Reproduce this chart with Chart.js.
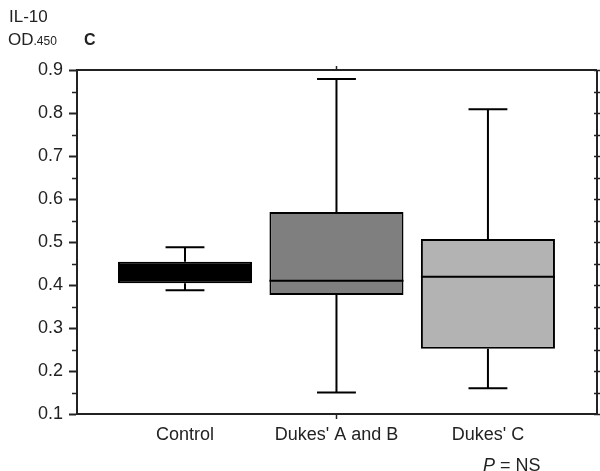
<!DOCTYPE html>
<html>
<head>
<meta charset="utf-8">
<script src="https://cdn.jsdelivr.net/npm/chart.js@4"></script>
<style>
  html, body { margin: 0; padding: 0; background: #fff; }
  #wrap { position: relative; width: 600px; height: 471px; font-family: "Liberation Sans", Arial, sans-serif; color: #222; }
  #c { position: absolute; left: 0; top: 0; }
  .t { position: absolute; white-space: nowrap; line-height: 1; }
</style>
</head>
<body>
<div id="wrap">
  <canvas id="c" width="600" height="471"></canvas>
  <div class="t" style="left:9px; top:8px; font-size:17px;">IL-10</div>
  <div class="t" style="left:8px; top:31px; font-size:17px;">OD<span style="font-size:12px;">.450</span></div>
  <div class="t" style="left:84px; top:32px; font-size:16px; font-weight:bold;">C</div>
  <div class="t" style="left:483px; top:456px; font-size:18px;"><i>P</i> = NS</div>
</div>
<script>
const categories = ['Control', "Dukes' A and B", "Dukes' C"];
const positions = [1, 2, 3];
const whiskerLow = [0.388, 0.150, 0.160];
const q1 = [0.404, 0.377, 0.252];
const median = [0.430, 0.410, 0.419];
const q3 = [0.454, 0.570, 0.507];
const whiskerHigh = [0.488, 0.879, 0.809];
const boxColors = ['#000000', '#7f7f7f', '#b3b3b3'];
const yTicks = [0.1, 0.2, 0.3, 0.4, 0.5, 0.6, 0.7, 0.8, 0.9];
const yMinorTicks = [0.15, 0.25, 0.35, 0.45, 0.55, 0.65, 0.75, 0.85];
const xRange = [0.287, 3.72];

const axisColor = '#222';

const boxPlugin = {
  id: 'boxExtras',
  afterDatasetsDraw(chart) {
    const ctx = chart.ctx;
    const y = chart.scales.y;
    const meta = chart.getDatasetMeta(0);
    ctx.save();
    ctx.strokeStyle = '#000';
    ctx.lineWidth = 2;
    meta.data.forEach((bar, i) => {
      const cx = bar.x;
      const w = bar.width;
      const capHalf = w * 0.145;
      const yq1 = y.getPixelForValue(q1[i]);
      const yq3 = y.getPixelForValue(q3[i]);
      const ymed = y.getPixelForValue(median[i]);
      const ylo = y.getPixelForValue(whiskerLow[i]);
      const yhi = y.getPixelForValue(whiskerHigh[i]);
      ctx.beginPath();
      ctx.moveTo(cx, yq3); ctx.lineTo(cx, yhi);
      ctx.moveTo(cx - capHalf, yhi); ctx.lineTo(cx + capHalf, yhi);
      ctx.moveTo(cx, yq1); ctx.lineTo(cx, ylo);
      ctx.moveTo(cx - capHalf, ylo); ctx.lineTo(cx + capHalf, ylo);
      ctx.moveTo(cx - w / 2, ymed); ctx.lineTo(cx + w / 2, ymed);
      ctx.stroke();
    });
    ctx.restore();
  },
  afterDraw(chart) {
    const ctx = chart.ctx;
    const a = chart.chartArea;
    const y = chart.scales.y;
    const x = chart.scales.x;
    ctx.save();
    ctx.strokeStyle = axisColor;
    ctx.lineWidth = 2;
    ctx.beginPath();
    ctx.moveTo(a.left, a.top); ctx.lineTo(a.right, a.top);
    ctx.moveTo(a.right, a.top); ctx.lineTo(a.right, a.bottom + 1);
    ctx.stroke();
    ctx.lineWidth = 1.5;
    ctx.beginPath();
    yMinorTicks.forEach(v => {
      const py = Math.round(y.getPixelForValue(v)) + 0.5;
      ctx.moveTo(a.left - 5, py); ctx.lineTo(a.left, py);
    });
    yTicks.concat(yMinorTicks).forEach(v => {
      const py = Math.round(y.getPixelForValue(v)) + 0.5;
      ctx.moveTo(a.right - 3, py); ctx.lineTo(a.right + 3, py);
    });
    const mx = Math.round(x.getPixelForValue(positions[1])) + 0.5;
    ctx.moveTo(mx, a.top - 4); ctx.lineTo(mx, a.top);
    ctx.moveTo(mx, a.bottom); ctx.lineTo(mx, a.bottom + 5);
    ctx.stroke();
    ctx.restore();
  }
};

new Chart(document.getElementById('c'), {
  type: 'bar',
  data: {
    datasets: [{
      data: positions.map((p, i) => ({ x: p, y: [q1[i], q3[i]] })),
      backgroundColor: boxColors,
      borderColor: '#000',
      borderWidth: 2,
      borderSkipped: false,
      barPercentage: 0.885,
      categoryPercentage: 1.0
    }]
  },
  options: {
    responsive: false,
    animation: false,
    devicePixelRatio: 1,
    layout: { padding: { top: 70, right: 3, left: 0, bottom: 0 } },
    plugins: { legend: { display: false }, tooltip: { enabled: false } },
    scales: {
      x: {
        type: 'linear',
        offset: false,
        bounds: 'data',
        min: xRange[0],
        max: xRange[1],
        afterDataLimits(scale) { scale.min = xRange[0]; scale.max = xRange[1]; },
        afterBuildTicks(scale) {
          scale.ticks = positions.map(v => ({ value: v }));
          scale.min = xRange[0]; scale.max = xRange[1];
        },
        afterFit(scale) { scale.height = 57; },
        ticks: {
          callback: (v) => { const i = positions.indexOf(v); return i >= 0 ? categories[i] : ''; },
          font: { family: '"Liberation Sans", Arial, sans-serif', size: 18 },
          color: axisColor,
          padding: 10,
          maxRotation: 0,
          autoSkip: false
        },
        grid: { display: false, drawTicks: false, offset: false },
        border: { display: true, color: axisColor, width: 2 }
      },
      y: {
        min: 0.1,
        max: 0.9,
        afterBuildTicks(scale) { scale.ticks = yTicks.map(v => ({ value: v })); },
        afterFit(scale) { scale.width = 77; },
        ticks: {
          callback: (v) => v.toFixed(1),
          font: { family: '"Liberation Sans", Arial, sans-serif', size: 18 },
          color: axisColor,
          padding: 6
        },
        grid: { drawOnChartArea: false, drawTicks: true, tickLength: 8, tickWidth: 2, tickColor: axisColor, color: axisColor },
        border: { display: true, color: axisColor, width: 2 }
      }
    }
  },
  plugins: [boxPlugin]
});
</script>
</body>
</html>
